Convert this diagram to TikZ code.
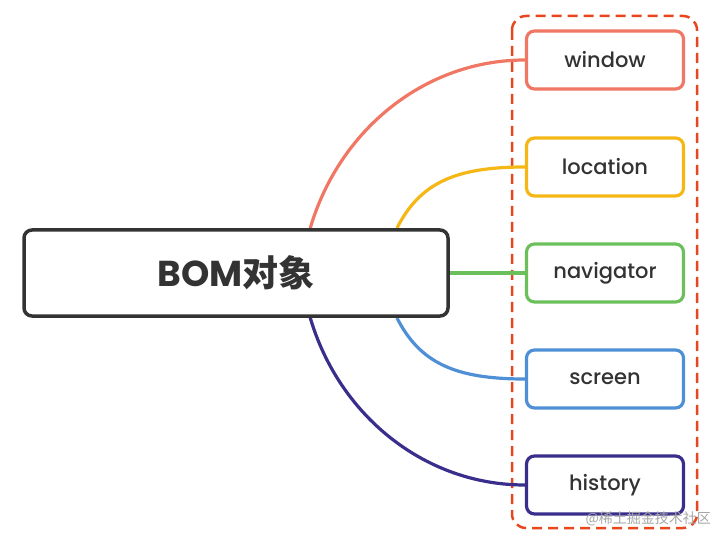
\documentclass[tikz,border=0pt]{standalone}
\usepackage{fontspec}
\setmainfont{Poppins}
\newfontfamily\medfont{Poppins}[UprightFont={* Medium}]
\newfontfamily\cjk{Noto Sans CJK SC}
\usetikzlibrary{calc}
\definecolor{dark}{HTML}{333333}
\definecolor{cwin}{HTML}{F07763}
\definecolor{cloc}{HTML}{F5B716}
\definecolor{cnav}{HTML}{6CC05B}
\definecolor{cscr}{HTML}{4F8FD6}
\definecolor{chis}{HTML}{3A2E8C}
\definecolor{cdash}{HTML}{E8461E}
\tikzset{
  leaf/.style={draw=#1, line width=3.2pt, rounded corners=8pt, fill=white,
    minimum width=157pt, minimum height=58pt, text=dark, font=\medfont\fontsize{21}{24}\selectfont},
  link/.style={draw=#1, line width=3.2pt},
}
\begin{document}
\begin{tikzpicture}[x=1pt,y=-1pt]
\useasboundingbox (0,0) rectangle (728,545);
% group box
\draw[cdash, line width=2.5pt, dash pattern=on 10pt off 6pt, rounded corners=14pt]
  (512,16) rectangle (697,528);
% leaves
\node[leaf=cwin] (window) at (605,60) {window};
\node[leaf=cloc] (location) at (605,167) {location};
\node[leaf=cnav] (navigator) at (605,273) {navigator};
\node[leaf=cscr] (screen) at (605,379) {screen};
\node[leaf=chis] (history) at (605,485) {history};
% anchors inside the main box (main is drawn on top afterwards)
\coordinate (sw) at (300,300);
\coordinate (sl) at (397,228);
\coordinate (ss) at (397,318);
\coordinate (sh) at (300,246);
% connectors
\draw[link=cwin] (sw) .. controls (300,167) and (401,60) .. (window.west);
\draw[link=cloc] (sl) .. controls (420,183) and (455,167) .. (location.west);
\draw[link=cnav] (450,273) -- (navigator.west);
\draw[link=cscr] (ss) .. controls (420,363) and (455,379) .. (screen.west);
\draw[link=chis] (sh) .. controls (300,379) and (401,485) .. (history.west);
% main node
\node[draw=dark, line width=3.5pt, rounded corners=8pt, fill=white,
  minimum width=424pt, minimum height=86pt, text=dark] (main) at (236,273)
  {\fontsize{36}{40}\selectfont\bfseries BOM{\cjk\bfseries 对象}};
% watermark
\node[anchor=east, text=gray!70, font=\cjk\fontsize{14}{16}\selectfont, inner sep=0pt] (wm) at (711,519) {@稀土掘金技术社区};
\end{tikzpicture}
\end{document}
